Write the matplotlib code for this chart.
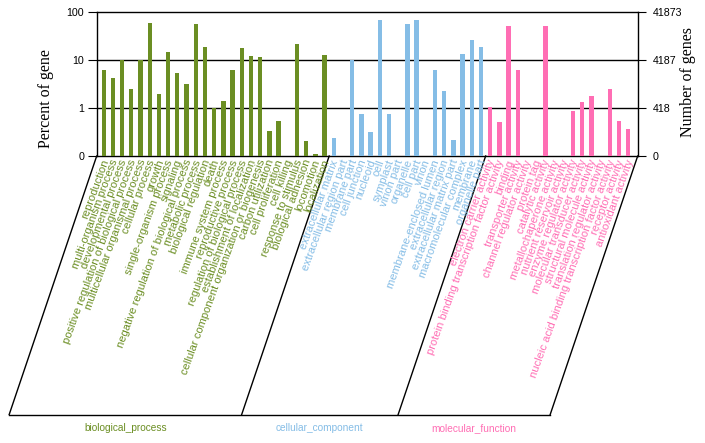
import numpy as np
import matplotlib.pyplot as plt
from matplotlib.ticker import FixedLocator, FixedFormatter, NullLocator

#%% data
bp_terms = ['reproduction', 'multi-organism process', 'developmental process',
            'positive regulation of biological process', 'multicellular organismal process',
            'cellular process', 'growth', 'single-organism process', 'signaling',
            'negative regulation of biological process', 'metabolic process',
            'biological regulation', 'death', 'immune system process', 'reproductive process',
            'regulation of biological process', 'establishment of localization',
            'cellular component organization or biogenesis', 'carbon utilization',
            'cell proliferation', 'cell killing', 'response to stimulus',
            'biological adhesion', 'locomotion', 'localization']
bp_pct = [6.2, 4.2, 10, 2.5, 10, 57, 1.95, 14.6, 5.3, 3.1, 55.6, 18.9, 1.0, 1.42, 6.2,
          17.4, 12.1, 11.7, 0.33, 0.54, 0, 21, 0.21, 0.108, 12.7]

cc_terms = ['extracellular matrix', 'extracellular region part', 'membrane part',
            'cell junction', 'nucleoid', 'cell', 'symplast', 'virion part', 'organelle',
            'cell part', 'virion', 'membrane-enclosed lumen', 'extracellular region',
            'extracellular matrix part', 'macromolecular complex', 'membrane', 'organelle part']
cc_pct = [0.24, 0, 10, 0.73, 0.31, 67, 0.73, 0, 55.6, 67, 0, 6.0, 2.3, 0.22, 13.3, 26, 18.3]

mf_terms = ['electron carrier activity', 'protein binding transcription factor activity',
            'binding', 'transporter activity', 'channel regulator activity', 'protein tag',
            'catalytic activity', 'metallochaperone activity', 'nutrient reservoir activity',
            'enzyme regulator activity', 'molecular transducer activity',
            'structural molecule activity', 'translation regulator activity',
            'nucleic acid binding transcription factor activity', 'receptor activity',
            'antioxidant activity']
mf_pct = [1.05, 0.52, 50.5, 6.2, 0, 0, 50.5, 0, 0, 0.85, 1.31, 1.8, 0, 2.5, 0.53, 0.37]

groups = ['biological_process', 'cellular_component', 'molecular_function']
group_terms = [bp_terms, cc_terms, mf_terms]
group_pct = [bp_pct, cc_pct, mf_pct]
colors = ['#6B8E23', '#85BDE6', '#FF6EB4']

pct_ticks = [0.1, 1, 10, 100]
pct_labels = ['0', '1', '10', '100']
gene_labels = ['0', '418', '4187', '41873']

#%% layout (pixels)
W, H = 705, 443
ax_l, ax_r, ax_t, ax_b = 96.7, 637.7, 11.7, 156.0
shift, base_y = 87.5, 414.5

fig = plt.figure(figsize=(W / 100, H / 100), dpi=100)
ax = fig.add_axes([ax_l / W, 1 - ax_b / H, (ax_r - ax_l) / W, (ax_b - ax_t) / H])

n_total = sum(len(t) for t in group_terms)
xlim = (-0.76, n_total - 1 + 1.02)

start = 0
bounds = [xlim[0]]
for terms, pct, c in zip(group_terms, group_pct, colors):
    x = np.arange(start, start + len(terms))
    v = np.array(pct, dtype=float)
    h = np.where(v > 0.1, v - 0.1, np.nan)
    h = np.where((v > 0) & (v <= 0.1), 0.0, h)
    ax.bar(x, h, bottom=0.1, width=0.47, color=c, zorder=3)
    start += len(terms)
    bounds.append(start - 0.5)
bounds[-1] = xlim[1]

ax.set_yscale('log')
ax.set_ylim(0.1, 100)
ax.set_xlim(*xlim)
ax.yaxis.set_major_locator(FixedLocator(pct_ticks))
ax.yaxis.set_major_formatter(FixedFormatter(pct_labels))
ax.yaxis.set_minor_locator(NullLocator())
ax.set_xticks([])
for y in [1, 10]:
    ax.axhline(y, color='black', lw=1, zorder=2)
for s in ax.spines.values():
    s.set_color('black')
    s.set_linewidth(1)
ax.tick_params(axis='y', direction='out', length=6.5, width=0.8, pad=2.5,
               labelsize=7.7)

ax2 = ax.twinx()
ax2.set_yscale('log')
ax2.set_ylim(0.1, 100)
ax2.yaxis.set_major_locator(FixedLocator(pct_ticks))
ax2.yaxis.set_major_formatter(FixedFormatter(gene_labels))
ax2.yaxis.set_minor_locator(NullLocator())
ax2.tick_params(axis='y', direction='out', length=5.4, width=0.8, pad=5.5,
                labelsize=7.7)
for s in ax2.spines.values():
    s.set_visible(False)
for lab in ax.get_yticklabels() + ax2.get_yticklabels():
    lab.set_family('Liberation Sans')

#%% overlay for labels and the slanted frame
ov = fig.add_axes([0, 0, 1, 1])
ov.set_xlim(0, W)
ov.set_ylim(H, 0)
ov.axis('off')
ov.patch.set_alpha(0)


def px(xv):
    return ax_l + (xv - xlim[0]) / (xlim[1] - xlim[0]) * (ax_r - ax_l)


start = 0
for terms, c in zip(group_terms, colors):
    for i, t in enumerate(terms):
        ov.text(px(start + i) + 2, ax_b + 4, t, rotation=70, rotation_mode='anchor',
                ha='right', va='center', fontsize=8, color=c, family='Liberation Sans')
    start += len(terms)

for b in bounds:
    ov.plot([px(b), px(b) - shift], [ax_b, base_y], color='black', lw=1)
ov.plot([px(bounds[0]) - shift, px(bounds[-1]) - shift], [base_y, base_y],
        color='black', lw=1)

for k, (g, c) in enumerate(zip(groups, colors)):
    xc = (px(bounds[k]) + px(bounds[k + 1])) / 2 - shift
    ov.text(xc, 428, g, ha='center', va='center', fontsize=7.3, color=c,
            family='Liberation Sans')

ov.text(45.7, 98.3, 'Percent of gene', rotation=90, ha='center', va='center',
        fontsize=11.5, family='Liberation Serif')
ov.text(688.5, 81.7, 'Number of genes', rotation=90, ha='center', va='center',
        fontsize=11.5, family='Liberation Serif')

fig.savefig('out.png', dpi=100)
